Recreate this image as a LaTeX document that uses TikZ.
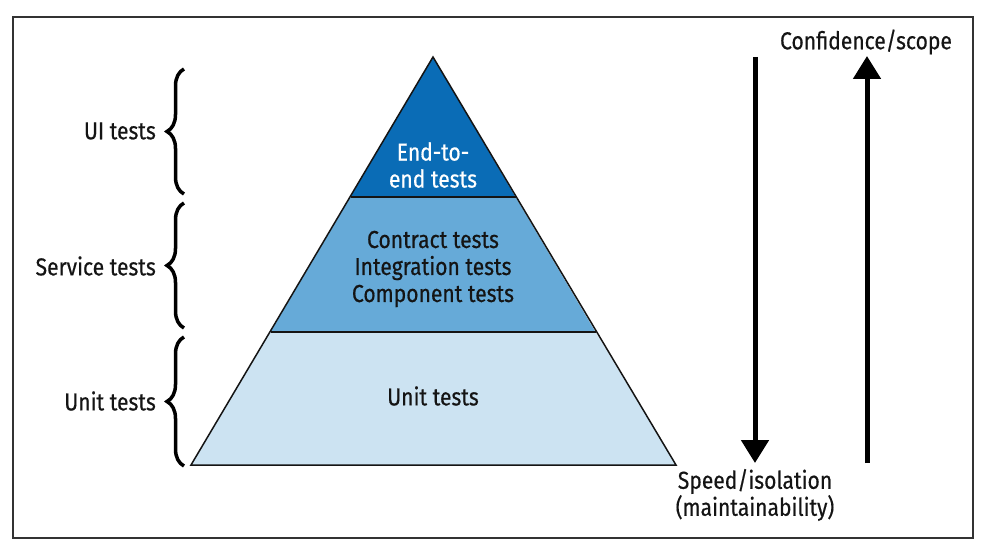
\documentclass[tikz,border=0pt]{standalone}
\usepackage{fontspec}
\setmainfont{Fira Sans}[FakeStretch=0.86, FakeBold=0.5]
\usetikzlibrary{decorations.pathreplacing,arrows.meta}
\definecolor{topblue}{HTML}{0A6CB6}
\definecolor{midblue}{HTML}{66AAD8}
\definecolor{lowblue}{HTML}{CCE3F2}
\definecolor{ink}{HTML}{141414}
\begin{document}
\begin{tikzpicture}[x=1pt,y=-1pt,
  lbl/.style={font=\fontsize{24.5}{27}\selectfont, text=ink, inner sep=0pt, align=center},
  bracepath/.style={decorate, decoration={brace, amplitude=17pt}, line width=3.5pt, draw=black},
  bigarrow/.style={line width=5pt, -{Triangle[width=27pt,length=23pt]}},
  edge/.style={line width=1.5pt, draw=ink, line join=miter}]
\useasboundingbox (0,0) rectangle (986,553);
\draw[line width=1.3pt, draw=black!80] (13,17) rectangle (973,538);
% pyramid points
\coordinate (apex) at (433,57);
\coordinate (bl) at (191,465);
\coordinate (br) at (676,465);
\coordinate (d1l) at (350.5,197);
\coordinate (d1r) at (515.5,197);
\coordinate (d2l) at (270.5,332);
\coordinate (d2r) at (595.5,332);
\fill[topblue] (apex) -- (d1r) -- (d1l) -- cycle;
\fill[midblue] (d1l) -- (d1r) -- (d2r) -- (d2l) -- cycle;
\fill[lowblue] (d2l) -- (d2r) -- (br) -- (bl) -- cycle;
\draw[edge] (apex) -- (br) -- (bl) -- cycle;
\draw[edge] (d1l) -- (d1r);
\draw[edge] (d2l) -- (d2r);
% pyramid texts
\node[lbl, text=white] (e2e) at (433,165) {End-to-\\end tests};
\node[lbl] (svc) at (433,269) {Contract tests\\Integration tests\\Component tests};
\node[lbl] (unit) at (433,396) {Unit tests};
% left labels and braces
\node[lbl, anchor=east] (uil) at (156,131) {UI tests};
\node[lbl, anchor=east] (svl) at (156,266) {Service tests};
\node[lbl, anchor=east] (unl) at (156,401) {Unit tests};
\coordinate (b1b) at (184,194);
\coordinate (b1t) at (184,69);
\coordinate (b2b) at (184,328);
\coordinate (b2t) at (184,203);
\coordinate (b3b) at (184,466);
\coordinate (b3t) at (184,337);
\draw[bracepath] (b1b) -- (b1t);
\draw[bracepath] (b2b) -- (b2t);
\draw[bracepath] (b3b) -- (b3t);
% arrows
\coordinate (dtop) at (755,57);
\coordinate (dbot) at (755,463);
\coordinate (ubot) at (867,463);
\coordinate (utop) at (867,56);
\draw[bigarrow] (dtop) -- (dbot);
\draw[bigarrow] (ubot) -- (utop);
\node[lbl] (conf) at (866,42) {Confidence/scope};
\node[lbl] (speed) at (755,495) {Speed/isolation\\(maintainability)};
\end{tikzpicture}
\end{document}
